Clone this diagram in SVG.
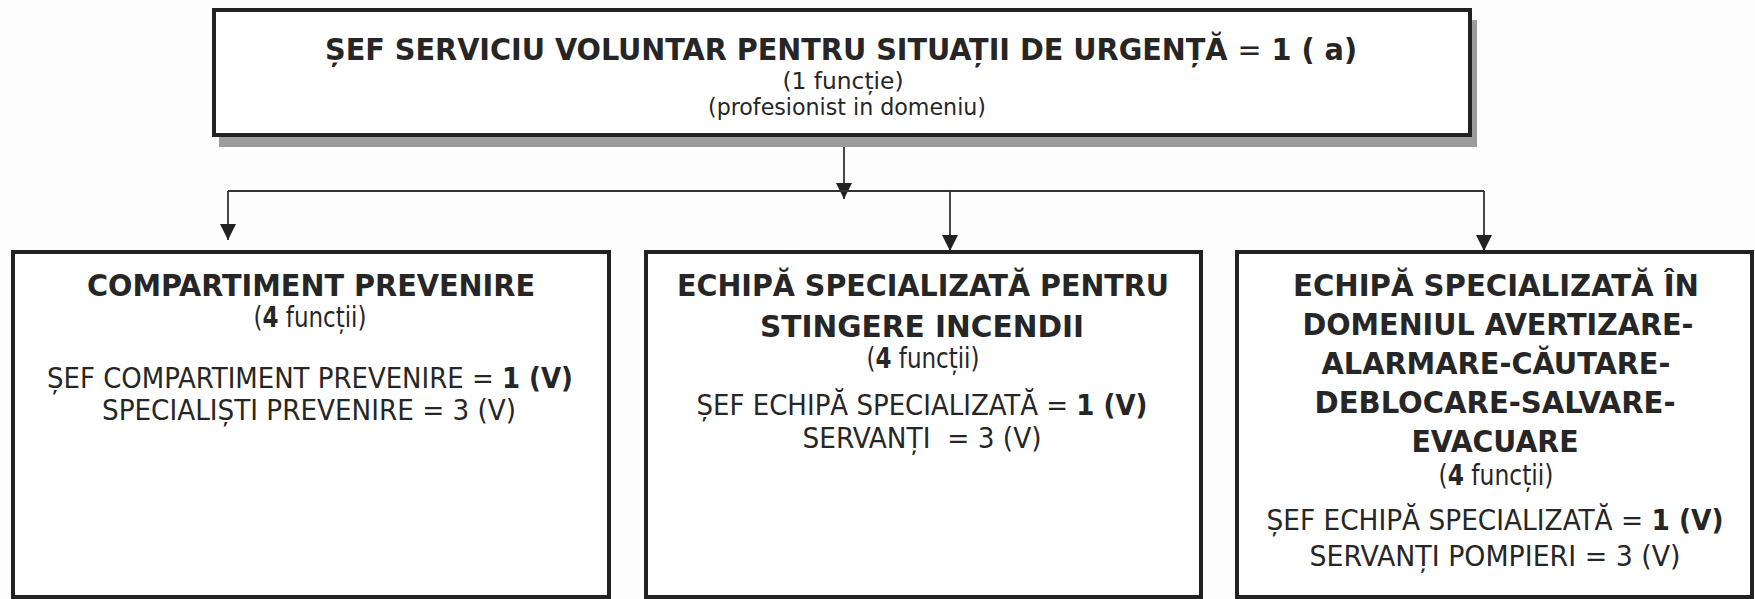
<svg xmlns="http://www.w3.org/2000/svg" width="1755" height="599" viewBox="0 0 1755 599">
<style>
text{font-family:"DejaVu Sans Condensed","DejaVu Sans","Liberation Sans",sans-serif;fill:#262626;text-anchor:middle}
.b{font-weight:bold}
.h{font-weight:bold;font-size:31px}
.r{font-size:28px}
.s{font-size:23px}
.box{fill:#fff;stroke:#222;stroke-width:4}
.shadow{fill:#9c9c9c}
.con{stroke:#333;stroke-width:1.8;fill:none}
</style>
<defs>
<marker id="arr" markerUnits="userSpaceOnUse" markerWidth="16" markerHeight="16" viewBox="0 0 14 14" refX="14" refY="7" orient="auto">
<path d="M0,0 L14,7 L0,14 Z" fill="#222"/>
</marker>
</defs>
<rect width="1755" height="599" fill="#fdfdfd"/>
<g id="connectors">
<line class="con" x1="844" y1="137" x2="844" y2="199" marker-end="url(#arr)"/>
<line class="con" x1="228" y1="191" x2="1484" y2="191"/>
<line class="con" x1="228" y1="191" x2="228" y2="240" marker-end="url(#arr)"/>
<line class="con" x1="950" y1="191" x2="950" y2="251" marker-end="url(#arr)"/>
<line class="con" x1="1484" y1="191" x2="1484" y2="251" marker-end="url(#arr)"/>
</g>
<g id="node-sef">
<rect class="shadow" x="219" y="20" width="1258" height="127"/>
<rect class="box" x="214" y="10" width="1256" height="125"/>
<text class="h" x="841" y="60" textLength="1032" lengthAdjust="spacingAndGlyphs">ȘEF SERVICIU VOLUNTAR PENTRU SITUAȚII DE URGENȚĂ <tspan font-weight="normal">=</tspan> 1 ( a)</text>
<text class="s" x="843" y="89" textLength="121" lengthAdjust="spacingAndGlyphs">(1 funcție)</text>
<text class="s" x="847" y="115" textLength="278" lengthAdjust="spacingAndGlyphs">(profesionist in domeniu)</text>
</g>
<g id="node-prevenire">
<rect class="box" x="13" y="252" width="596" height="345"/>
<text class="h" x="311" y="296" textLength="448" lengthAdjust="spacingAndGlyphs">COMPARTIMENT PREVENIRE</text>
<text class="r" x="310" y="327" textLength="113" lengthAdjust="spacingAndGlyphs">(<tspan class="b">4</tspan> funcții)</text>
<text class="r" x="310" y="388" textLength="526" lengthAdjust="spacingAndGlyphs">ȘEF COMPARTIMENT PREVENIRE = <tspan class="b">1 (V)</tspan></text>
<text class="r" x="309" y="420" textLength="414" lengthAdjust="spacingAndGlyphs">SPECIALIȘTI PREVENIRE = 3 (V)</text>
</g>
<g id="node-stingere">
<rect class="box" x="646" y="252" width="555" height="345"/>
<text class="h" x="923" y="296" textLength="492" lengthAdjust="spacingAndGlyphs">ECHIPĂ SPECIALIZATĂ PENTRU</text>
<text class="h" x="922" y="337" textLength="324" lengthAdjust="spacingAndGlyphs">STINGERE INCENDII</text>
<text class="r" x="923" y="368" textLength="113" lengthAdjust="spacingAndGlyphs">(<tspan class="b">4</tspan> funcții)</text>
<text class="r" x="922" y="415" textLength="451" lengthAdjust="spacingAndGlyphs">ȘEF ECHIPĂ SPECIALIZATĂ = <tspan class="b">1 (V)</tspan></text>
<text class="r" x="922" y="448" textLength="239" lengthAdjust="spacingAndGlyphs" xml:space="preserve">SERVANȚI  = 3 (V)</text>
</g>
<g id="node-avertizare">
<rect class="box" x="1237" y="252" width="515" height="345"/>
<text class="h" x="1496" y="296" textLength="406" lengthAdjust="spacingAndGlyphs">ECHIPĂ SPECIALIZATĂ ÎN</text>
<text class="h" x="1498" y="335" textLength="391" lengthAdjust="spacingAndGlyphs">DOMENIUL AVERTIZARE-</text>
<text class="h" x="1496" y="374" textLength="349" lengthAdjust="spacingAndGlyphs">ALARMARE-CĂUTARE-</text>
<text class="h" x="1495" y="413" textLength="361" lengthAdjust="spacingAndGlyphs">DEBLOCARE-SALVARE-</text>
<text class="h" x="1495" y="452" textLength="167" lengthAdjust="spacingAndGlyphs">EVACUARE</text>
<text class="r" x="1496" y="485" textLength="115" lengthAdjust="spacingAndGlyphs">(<tspan class="b">4</tspan> funcții)</text>
<text class="r" x="1495" y="530" textLength="457" lengthAdjust="spacingAndGlyphs">ȘEF ECHIPĂ SPECIALIZATĂ = <tspan class="b">1 (V)</tspan></text>
<text class="r" x="1495" y="566" textLength="371" lengthAdjust="spacingAndGlyphs">SERVANȚI POMPIERI = 3 (V)</text>
</g>
</svg>
